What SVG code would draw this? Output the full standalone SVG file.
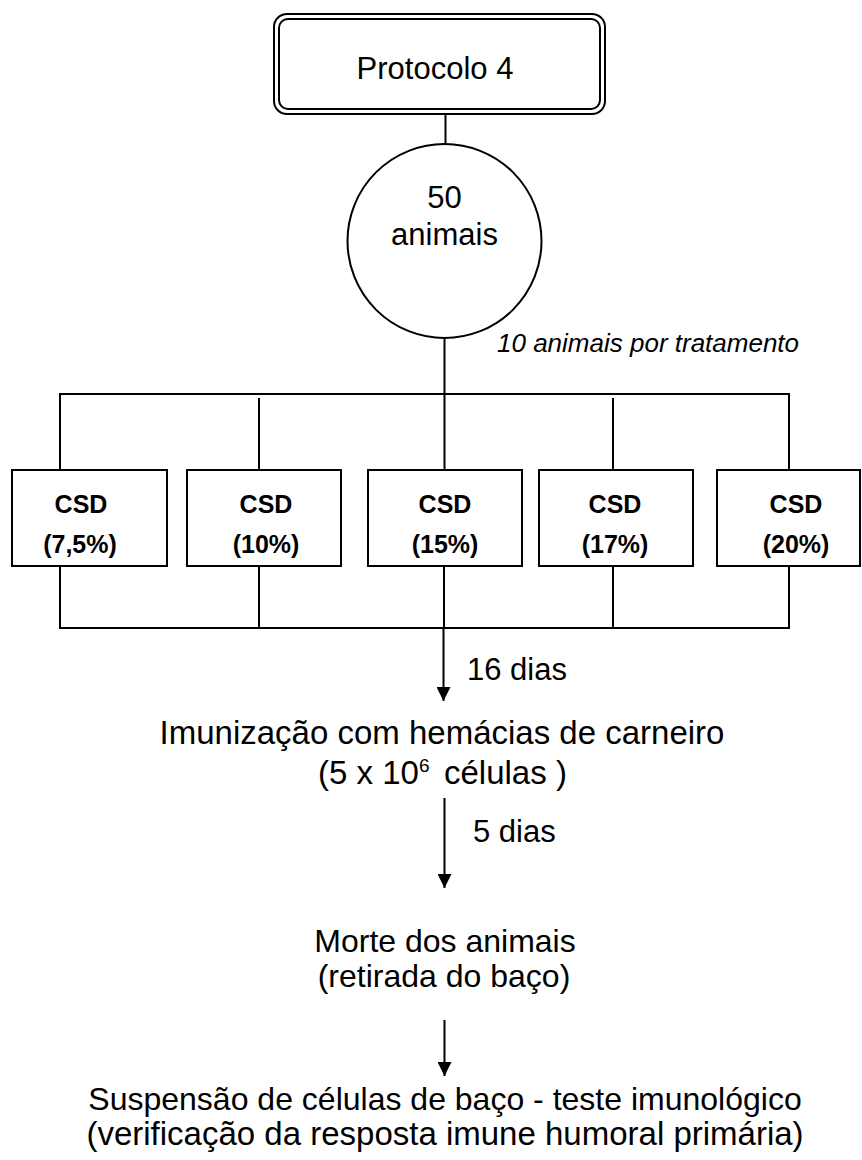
<svg xmlns="http://www.w3.org/2000/svg" width="862" height="1160" viewBox="0 0 862 1160">
  <style>
    .ln { stroke: #000; stroke-width: 2; fill: none; }
    .box { stroke: #000; stroke-width: 2; fill: #fff; }
    .t { font-family: "Liberation Sans", Arial, sans-serif; fill: #000; }
    .big { font-size: 31px; }
    .csd { font-size: 25px; font-weight: bold; text-anchor: middle; }
    .mid { text-anchor: middle; }
  </style>
  <defs>
    <marker id="arrow" markerWidth="16" markerHeight="14" refX="16" refY="8" orient="auto" markerUnits="userSpaceOnUse" viewBox="0 0 16 16">
      <path d="M0,0 L16,8 L0,16 Z" fill="#000"/>
    </marker>
  </defs>

  <!-- connectors -->
  <g id="connectors">
    <line class="ln" x1="445.5" y1="114" x2="445.5" y2="144"/>
    <line class="ln" x1="444.5" y1="338" x2="444.5" y2="470"/>
    <!-- upper distribution bus -->
    <polyline class="ln" points="60,470 60,394 789,394 789,470"/>
    <line class="ln" x1="259" y1="398" x2="259" y2="470"/>
    <line class="ln" x1="613" y1="398" x2="613" y2="470"/>
    <!-- lower collection bus -->
    <polyline class="ln" points="60,566 60,628 789,628 789,566"/>
    <line class="ln" x1="259" y1="566" x2="259" y2="628"/>
    <line class="ln" x1="613" y1="566" x2="613" y2="628"/>
    <line class="ln" x1="444" y1="566" x2="444" y2="628"/>
    <!-- downward arrows -->
    <line class="ln" x1="443.5" y1="628" x2="443.5" y2="701" marker-end="url(#arrow)"/>
    <line class="ln" x1="444.5" y1="798" x2="444.5" y2="888" marker-end="url(#arrow)"/>
    <line class="ln" x1="444.5" y1="1020" x2="444.5" y2="1076" marker-end="url(#arrow)"/>
  </g>

  <!-- title node with double rounded border -->
  <g id="protocolo">
    <rect class="box" x="274" y="14" width="331" height="100" rx="13"/>
    <rect class="box" x="279" y="19" width="321" height="90" rx="9"/>
    <text class="t big" x="435" y="79" text-anchor="middle">Protocolo 4</text>
  </g>

  <g id="animais">
    <ellipse class="box" cx="444.5" cy="241" rx="97" ry="97"/>
    <text class="t big mid" x="444.5" y="208">50</text>
    <text class="t big mid" x="444.5" y="245">animais</text>
  </g>

  <g id="rotulo-tratamento">
    <text class="t" x="497" y="352" font-size="26" font-style="italic">10 animais por tratamento</text>
  </g>

  <g id="csd-7-5">
    <rect class="box" x="12" y="470" width="155" height="96"/>
    <text class="t csd" x="81" y="513">CSD</text>
    <text class="t csd" x="80" y="553">(7,5%)</text>
  </g>
  <g id="csd-10">
    <rect class="box" x="187" y="470" width="154" height="96"/>
    <text class="t csd" x="266" y="513">CSD</text>
    <text class="t csd" x="266" y="553">(10%)</text>
  </g>
  <g id="csd-15">
    <rect class="box" x="368" y="470" width="154" height="96"/>
    <text class="t csd" x="445" y="513">CSD</text>
    <text class="t csd" x="445" y="553">(15%)</text>
  </g>
  <g id="csd-17">
    <rect class="box" x="539" y="470" width="154" height="96"/>
    <text class="t csd" x="615" y="513">CSD</text>
    <text class="t csd" x="615" y="553">(17%)</text>
  </g>
  <g id="csd-20">
    <rect class="box" x="717" y="470" width="143" height="96"/>
    <text class="t csd" x="796" y="513">CSD</text>
    <text class="t csd" x="796" y="553">(20%)</text>
  </g>

  <g id="rotulo-16-dias">
    <text class="t big" x="467" y="680">16 dias</text>
  </g>

  <g id="imunizacao">
    <text class="t mid" x="442" y="744" font-size="33">Imunização com hemácias de carneiro</text>
    <text class="t" x="318" y="784" font-size="33">(5 x 10<tspan font-size="19" dy="-12">6</tspan><tspan x="444" dy="12">células )</tspan></text>
  </g>

  <g id="rotulo-5-dias">
    <text class="t big" x="473" y="842">5 dias</text>
  </g>

  <g id="morte">
    <text class="t mid" x="445" y="952" font-size="32">Morte dos animais</text>
    <text class="t mid" x="444" y="987" font-size="32">(retirada do baço)</text>
  </g>

  <g id="suspensao">
    <text class="t mid" x="445" y="1110" font-size="32">Suspensão de células de baço - teste imunológico</text>
    <text class="t mid" x="445" y="1145" font-size="33">(verificação da resposta imune humoral primária)</text>
  </g>
</svg>
